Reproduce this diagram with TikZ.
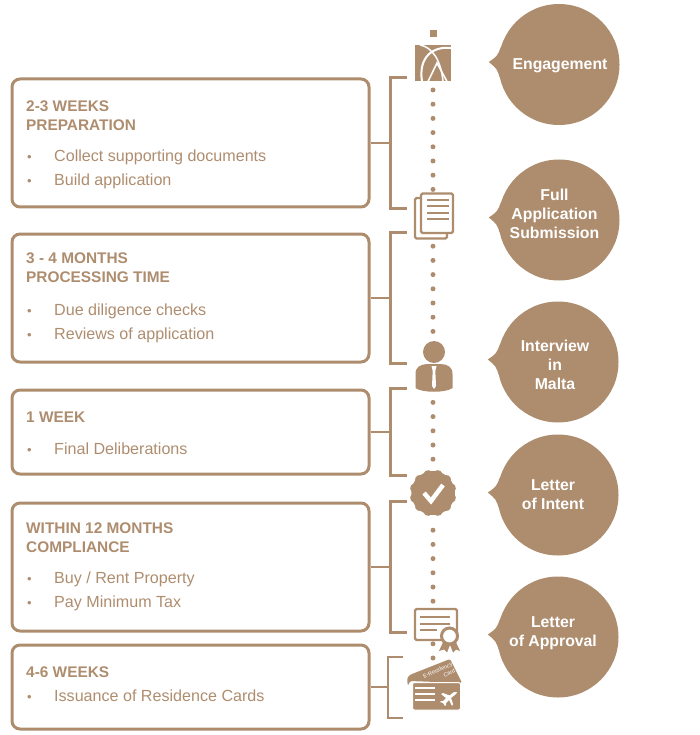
\documentclass[tikz,border=0pt]{standalone}
\usepackage{fontspec}
\setmainfont{Liberation Sans}
\usetikzlibrary{arrows.meta,positioning,shapes.geometric}
\definecolor{tan}{HTML}{AE8D6F}
\newcommand{\itm}[1]{\makebox[28pt][l]{\kern1pt\raisebox{0.6pt}{\fontsize{13}{13}\selectfont\textbullet}}#1}
\begin{document}
\begin{tikzpicture}[
  x=1pt, y=-1pt,
  font=\fontsize{15}{19}\selectfont,
  box/.style={draw=tan, line width=3pt, rounded corners=8pt, minimum width=357pt},
  head/.style={anchor=north west, inner sep=0pt, align=left, text=tan,
    font=\fontsize{15.4}{19}\selectfont\bfseries},
  items/.style={anchor=north west, inner sep=0pt, align=left, text=tan,
    font=\fontsize{16.1}{24}\selectfont},
  brk/.style={draw=tan, line width=2.5pt},
  bub/.style={circle, fill=tan, minimum size=121pt, inner sep=0pt},
  bubtxt/.style={align=center, inner sep=0pt, text=white,
    font=\fontsize{15.8}{19}\selectfont\bfseries},
  line/.style={draw=tan, line width=2.4pt, rounded corners=1.5pt},
  wline/.style={draw=white, line width=2pt}
]
\useasboundingbox (0,0) rectangle (700,735);
% boxes
\node[box, minimum height=128pt] (b1) at (190.5,143) {};
\node[box, minimum height=128pt] (b2) at (190.5,298) {};
\node[box, minimum height=84pt] (b3) at (190.5,432) {};
\node[box, minimum height=128pt] (b4) at (190.5,567) {};
\node[box, minimum height=84pt] (b5) at (190.5,687) {};
% box texts
\node[head] (h1) at (26,101) {2-3 WEEKS\\PREPARATION};
\node[items] (l1) at (26,150) {\itm{Collect supporting documents}\\\itm{Build application}};
\node[head] (h2) at (26,253) {3 - 4 MONTHS\\PROCESSING TIME};
\node[items] (l2) at (26,304) {\itm{Due diligence checks}\\\itm{Reviews of application}};
\node[head] (h3) at (26,412) {1 WEEK};
\node[items] (l3) at (26,443) {\itm{Final Deliberations}};
\node[head] (h4) at (26,523) {WITHIN 12 MONTHS\\COMPLIANCE};
\node[items] (l4) at (26,572) {\itm{Buy / Rent Property}\\\itm{Pay Minimum Tax}};
\node[head] (h5) at (26,667) {4-6 WEEKS};
\node[items] (l5) at (26,690) {\itm{Issuance of Residence Cards}};
% brackets
\foreach \b in {b1,b2,b3,b4}{
  \draw[brk] (\b.east) -- ([xshift=20pt]\b.east);
  \draw[brk] ([xshift=36pt]\b.north east) -- ([xshift=20pt]\b.north east)
    -- ([xshift=20pt]\b.south east) -- ([xshift=36pt]\b.south east);
}
\coordinate (k5) at (388,687);
\draw[brk] (b5.east) -- (k5);
\draw[brk] (403,657) -| (k5) |- (403,718);
% dots
\foreach \k in {0,...,7,11,12,...,17,22,23,...,26,31,32,...,36,39,40}{
  \fill[tan] (433,90+14.2*\k) circle (2.5pt);
}
% logo icon
\node[fill=tan, minimum size=7pt, inner sep=0pt] (top) at (433,33.5) {};
\node[fill=tan, minimum width=36pt, minimum height=36pt, inner sep=0pt] (logo) at (433,63.5) {};
\draw[white, line width=2pt] (451,48) .. controls (434,46) and (418,56) .. (422,81.5);
\draw[white, line width=1.5pt] (420,45) .. controls (432,47) and (441,60) .. (443,81.5);
\draw[white, line width=1.6pt] (428,81.5) -- (437,63) -- (447,81.5);
% documents icon
\draw[line, fill=white] (415,198) rectangle (447,238.5);
\draw[line, fill=white] (421,193.5) rectangle (453,233);
\foreach \y in {200,206.5,213,219}{
  \draw[tan, line width=2pt] (427,\y) -- (449,\y);
}
% person icon
\fill[tan] (434,352) circle (11pt);
\fill[tan] (415.5,388) -- (415.5,374) .. controls (415.5,367) and (420,364.5) .. (427,364) -- (441,364)
  .. controls (448,364.5) and (452.5,367) .. (452.5,374) -- (452.5,388)
  .. controls (446,393) and (422,393) .. (415.5,388) -- cycle;
\fill[white] (431.5,366) -- (436.5,366) -- (435.3,371) -- (436,386) -- (434,389) -- (432,386) -- (432.7,371) -- cycle;
% badge icon
\node[star, star points=12, star point ratio=0.86, fill=tan, minimum size=42pt, inner sep=0pt, rounded corners=2pt] (badge) at (433,493) {};
\draw[white, line width=4.5pt] (424,493) -- (431,501) -- (443,485);
% certificate icon
\draw[line] (415,609) rectangle (457,640);
\draw[tan, line width=2pt] (420,617) -- (450,617);
\draw[tan, line width=2pt] (420,623.5) -- (450,623.5);
\draw[tan, line width=2pt] (420,629.5) -- (437,629.5);
\fill[tan] (444,640) -- (439,651) -- (444,649.5) -- (447,652.5) -- (450,645) -- (453,652.5) -- (456,649.5) -- (460,651) -- (455,640) -- cycle;
\draw[tan, line width=3pt, fill=white] (449.5,636) circle (8pt);
% card icon
\fill[tan, rounded corners=1.5pt] (407,680) .. controls (408,676) and (410,675) .. (412,674) -- (450,659) -- (462,683) -- (410,681) -- (408,686) -- cycle;
\node[white, rotate=24, inner sep=0pt, align=right, font=\fontsize{5.5}{7}\selectfont] (er) at (439,673.5) {E-Residency\\Card};
\fill[tan, draw=white, line width=1pt, rounded corners=2pt] (412.5,682.5) rectangle (460.5,710);
\foreach \y in {687.5,693.5,700}{
  \draw[wline] (415,\y) -- (435,\y);
}
\fill[white] (457,692) -- (454,692) -- (449.5,695.5) -- (443,693) -- (441,694) -- (446,698) -- (443,701) -- (441,701) -- (440,702) -- (443,703) -- (445,706) -- (446,705) -- (446,703) -- (449,700) -- (452,706) -- (453,704) -- (451,698) -- (456,694) -- cycle;
% bubbles
\node[bub] (c1) at (559,64.5) {};
\node[bub] (c2) at (559,220) {};
\node[bub] (c3) at (558,362) {};
\node[bub] (c4) at (558,495) {};
\node[bub] (c5) at (558,637) {};
\foreach \c in {c1,c2,c3,c4,c5}{
  \coordinate (tip) at ([xshift=-9.5pt,yshift=2.5pt]\c.west);
  \fill[tan] (\c.163) .. controls ([xshift=-1.5pt]\c.172) .. (tip)
    .. controls ([xshift=-1.5pt]\c.184) .. (\c.192) -- ([xshift=10pt]\c.west) -- cycle;
}
\node[bubtxt] (t1) at (560,65.5) {Engagement};
\node[bubtxt] (t2) at (554.5,214) {Full\\Application\\Submission};
\node[bubtxt] (t3) at (555,365) {Interview\\in\\Malta};
\node[bubtxt] (t4) at (553,494.5) {Letter\\of Intent};
\node[bubtxt] (t5) at (553,633.5) {Letter\\of Approval};
\end{tikzpicture}
\end{document}
